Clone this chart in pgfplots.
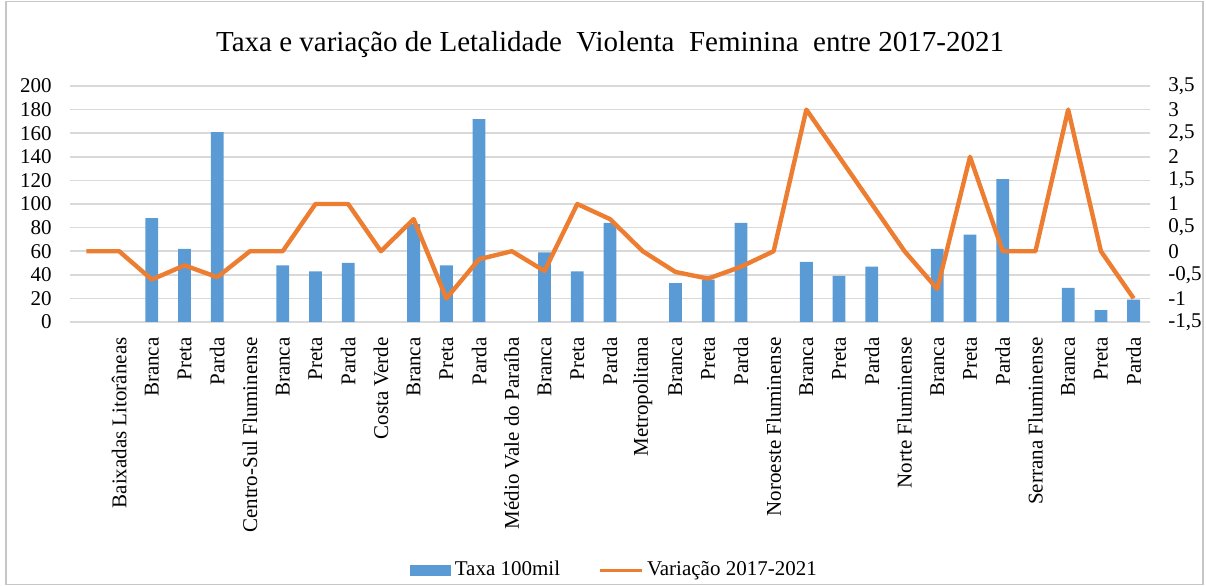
\documentclass[border=0pt]{standalone}
\usepackage{fontspec}
\setmainfont{Liberation Serif}
\usepackage{pgfplots}
\usepackage{pgfplotstable}
\pgfplotsset{compat=1.18}
\definecolor{barblue}{HTML}{5B9BD5}
\definecolor{lineorange}{HTML}{ED7D31}
\definecolor{gridgray}{HTML}{D9D9D9}

% taxa por 100 mil (eixo esquerdo), so as linhas de cor
\pgfplotstableread{
x taxa
2 88
3 62
4 161
6 48
7 43
8 50
10 83
11 48
12 172
14 59
15 43
16 84
18 33
19 36
20 84
22 51
23 39
24 47
26 62
27 74
28 121
30 29
31 10
32 19
}\taxa

% variacao 2017-2021 (eixo direito)
\pgfplotstableread{
x var
0 0
1 0
2 -0.6
3 -0.3
4 -0.55
5 0
6 0
7 1
8 1
9 0
10 0.68
11 -1
12 -0.17
13 0
14 -0.42
15 1
16 0.68
17 0
18 -0.44
19 -0.58
20 -0.33
21 0
22 3
23 2
24 1
25 0
26 -0.8
27 2
28 0
29 0
30 3
31 0
32 -1
}\variacao

\newcommand{\lbl}{\fontsize{10.5bp}{12bp}\selectfont}

\pgfplotsset{
  base/.style={
    scale only axis, width=540bp, height=118bp,
    at={(35bp,132bp)}, anchor=south west,
    xmin=-0.5, xmax=32.5,
    axis line style={draw=none},
    major tick length=0pt,
    tick label style={font=\lbl},
    /pgf/number format/assume math mode=true,
    /pgf/number format/use comma,
  }
}

\begin{document}
\begin{tikzpicture}
\useasboundingbox (0,0) rectangle (603bp,293bp);
\draw[gray!45, line width=0.6bp] (3bp,0.8bp) rectangle (601.5bp,292.2bp);

\node[font=\fontsize{14.5bp}{17bp}\selectfont] at (305bp,270.5bp)
  {Taxa e variação de Letalidade\ \ Violenta\ \ Feminina\ \ entre 2017-2021};

\begin{axis}[base,
    ymin=0, ymax=200, ytick={0,20,...,200},
    ymajorgrids, grid style={gridgray, line width=0.75bp},
    yticklabel style={anchor=east, inner sep=0pt},
    yticklabel shift=9bp,
    xtick={0,...,32},
    xticklabels={{},Baixadas Litorâneas,Branca,Preta,Parda,
      Centro-Sul Fluminense,Branca,Preta,Parda,
      Costa Verde,Branca,Preta,Parda,
      Médio Vale do Paraíba,Branca,Preta,Parda,
      Metropolitana,Branca,Preta,Parda,
      Noroeste Fluminense,Branca,Preta,Parda,
      Norte Fluminense,Branca,Preta,Parda,
      Serrana Fluminense,Branca,Preta,Parda},
    xticklabel style={rotate=90, anchor=east, inner sep=0pt},
    xticklabel shift=7.5bp,
  ]
  \draw[gridgray, line width=0.75bp] (axis cs:-0.5,0) -- (axis cs:32.5,0);
  \addplot[ybar, bar width=6.4bp, fill=barblue, draw=none] table {\taxa};
\end{axis}

\begin{axis}[base,
    ymin=-1.5, ymax=3.5,
    ytick={-1.5,-1,-0.5,0,0.5,1,1.5,2,2.5,3,3.5},
    yticklabel pos=right,
    yticklabel style={anchor=west, inner sep=0pt},
    yticklabel shift=9bp,
    hide x axis,
    legend style={draw=none, fill=none, font=\lbl,
      at={(0.505,-1.051)}, anchor=center, legend columns=2,
      /tikz/every even column/.append style={column sep=17bp}},
  ]
  \addlegendimage{legend image code/.code={\fill[barblue] (0bp,-2.5bp) rectangle (20bp,2.5bp);}}
  \addlegendentry{Taxa 100mil}
  \addplot[lineorange, line width=2.2bp, line join=round,
    legend image code/.code={\draw[lineorange, line width=1.5bp] (0bp,0bp) -- (21bp,0bp);}]
    table {\variacao};
  \addlegendentry{Variação 2017-2021}
\end{axis}
\end{tikzpicture}
\end{document}
